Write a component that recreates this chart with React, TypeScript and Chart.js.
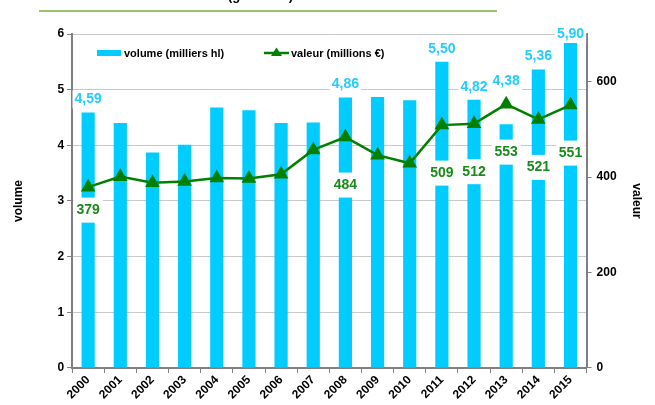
import React, { useEffect, useRef } from "react";
import { Chart, registerables } from "chart.js";

Chart.register(...registerables);

const years = ["2000","2001","2002","2003","2004","2005","2006","2007","2008","2009","2010","2011","2012","2013","2014","2015"];
const volume = [4.59, 4.40, 3.87, 4.01, 4.68, 4.63, 4.40, 4.41, 4.86, 4.87, 4.81, 5.50, 4.82, 4.38, 5.36, 5.90];
const valeur = [379, 401, 388, 391, 398, 397, 406, 457, 484, 446, 429, 509, 512, 553, 521, 551];
const labelledYears = ["2000","2008","2011","2012","2013","2014","2015"];
const volumeTicks = [0, 1, 2, 3, 4, 5, 6];
const valeurTicks = [0, 200, 400, 600];

const FONT = "'Liberation Sans', Arial, sans-serif";
const BLUE = "#00CCFF";
const LABEL_BLUE = "#22CCFF";
const GREEN = "#1A8A1A";
const LINE_GREEN = "#008000";
const AXIS = "#808080";

const labelPlugin = {
  id: "valueLabels",
  afterDatasetsDraw(chart: any) {
    const ctx = chart.ctx;
    const barMeta = chart.getDatasetMeta(0);
    const lineMeta = chart.getDatasetMeta(1);
    const area = chart.chartArea;
    ctx.save();
    ctx.font = `bold 14px ${FONT}`;
    ctx.textAlign = "center";
    ctx.textBaseline = "middle";
    years.forEach((y, i) => {
      if (!labelledYears.includes(y)) return;
      const bar = barMeta.data[i];
      const pt = lineMeta.data[i];
      const bt = volume[i].toFixed(2).replace(".", ",");
      let by = Math.min(bar.y, pt.y - 10) - 13;
      by = Math.max(by, area.top);
      const bw = ctx.measureText(bt).width + 4;
      ctx.fillStyle = "#ffffff";
      ctx.fillRect(bar.x - bw / 2, by - 9, bw, 18);
      ctx.fillStyle = LABEL_BLUE;
      ctx.fillText(bt, bar.x, by);
      const lt = String(valeur[i]);
      const ly = pt.y + (i === 0 ? 23 : 48);
      const lw = ctx.measureText(lt).width + 6;
      ctx.fillStyle = "#ffffff";
      ctx.fillRect(pt.x - lw / 2, ly - 12.5, lw, 25);
      ctx.fillStyle = GREEN;
      ctx.fillText(lt, pt.x, ly);
    });
    ctx.font = `bold 11px ${FONT}`;
    ctx.textAlign = "left";
    ctx.fillStyle = BLUE;
    ctx.fillRect(97, 50, 24, 6);
    ctx.fillStyle = "#000";
    ctx.fillText("volume (milliers hl)", 124, 54);
    ctx.strokeStyle = LINE_GREEN;
    ctx.lineWidth = 2.5;
    ctx.beginPath();
    ctx.moveTo(264, 53);
    ctx.lineTo(289, 53);
    ctx.stroke();
    ctx.fillStyle = LINE_GREEN;
    ctx.beginPath();
    ctx.moveTo(276.5, 47.5);
    ctx.lineTo(282, 56);
    ctx.lineTo(271, 56);
    ctx.closePath();
    ctx.fill();
    ctx.fillStyle = "#000";
    ctx.fillText("valeur (millions €)", 291, 54);
    ctx.restore();
  },
};

export default function App() {
  const ref = useRef<HTMLCanvasElement>(null);
  useEffect(() => {
    document.body.style.margin = "0";
    const chart = new Chart(ref.current!, {
      type: "bar",
      data: {
        labels: years,
        datasets: [
          {
            type: "bar",
            label: "volume (milliers hl)",
            data: volume,
            backgroundColor: BLUE,
            yAxisID: "y",
            barPercentage: 0.41,
            categoryPercentage: 1,
            order: 2,
          },
          {
            type: "line",
            label: "valeur (millions €)",
            data: valeur,
            borderColor: LINE_GREEN,
            backgroundColor: LINE_GREEN,
            borderWidth: 2.5,
            pointStyle: "triangle",
            pointRadius: 6,
            yAxisID: "y1",
            order: 1,
          },
        ],
      } as any,
      options: {
        animation: false,
        responsive: false,
        layout: { padding: { top: 34, left: 6, right: 6, bottom: 3 } },
        plugins: { legend: { display: false }, tooltip: { enabled: false } },
        scales: {
          x: {
            grid: { offset: true, drawOnChartArea: false, tickLength: 5, color: AXIS, tickColor: AXIS },
            border: { color: AXIS, width: 2 },
            ticks: { maxRotation: 45, minRotation: 45, color: "#000", font: { family: FONT, size: 12, weight: "bold" }, padding: 0 },
          },
          y: {
            position: "left",
            min: 0,
            max: 6,
            afterBuildTicks: (axis: any) => { axis.ticks = volumeTicks.map((v) => ({ value: v })); },
            grid: { color: "#C8C8C8", tickLength: 5, tickColor: AXIS, lineWidth: 1 },
            border: { color: AXIS, width: 2 },
            ticks: { color: "#000", font: { family: FONT, size: 12, weight: "bold" }, padding: 3 },
            title: { display: true, text: "volume", color: "#000", font: { family: FONT, size: 12, weight: "bold" }, padding: { top: 5, bottom: 29 } },
          },
          y1: {
            position: "right",
            min: 0,
            max: 700,
            afterBuildTicks: (axis: any) => { axis.ticks = valeurTicks.map((v) => ({ value: v })); },
            grid: { drawOnChartArea: false, tickLength: 5, tickColor: AXIS },
            border: { color: AXIS, width: 2 },
            ticks: { color: "#000", font: { family: FONT, size: 12, weight: "bold" }, padding: 5 },
            title: { display: true, text: "valeur", color: "#000", font: { family: FONT, size: 12, weight: "bold" }, padding: { top: 5, bottom: 8 } },
          },
        },
      } as any,
      plugins: [labelPlugin],
    });
    return () => chart.destroy();
  }, []);
  return (
    <div style={{ position: "relative", width: 655, height: 405, background: "#fff", overflow: "hidden" }}>
      <div style={{ position: "absolute", top: -12, left: 228, whiteSpace: "nowrap", font: `bold 13px ${FONT}`, color: "#000" }}>
        (grandeur)
      </div>
      <div style={{ position: "absolute", top: 10, left: 39, width: 458, height: 2, background: "#9BC46A" }} />
      <canvas ref={ref} width={655} height={405} style={{ display: "block" }} />
    </div>
  );
}
